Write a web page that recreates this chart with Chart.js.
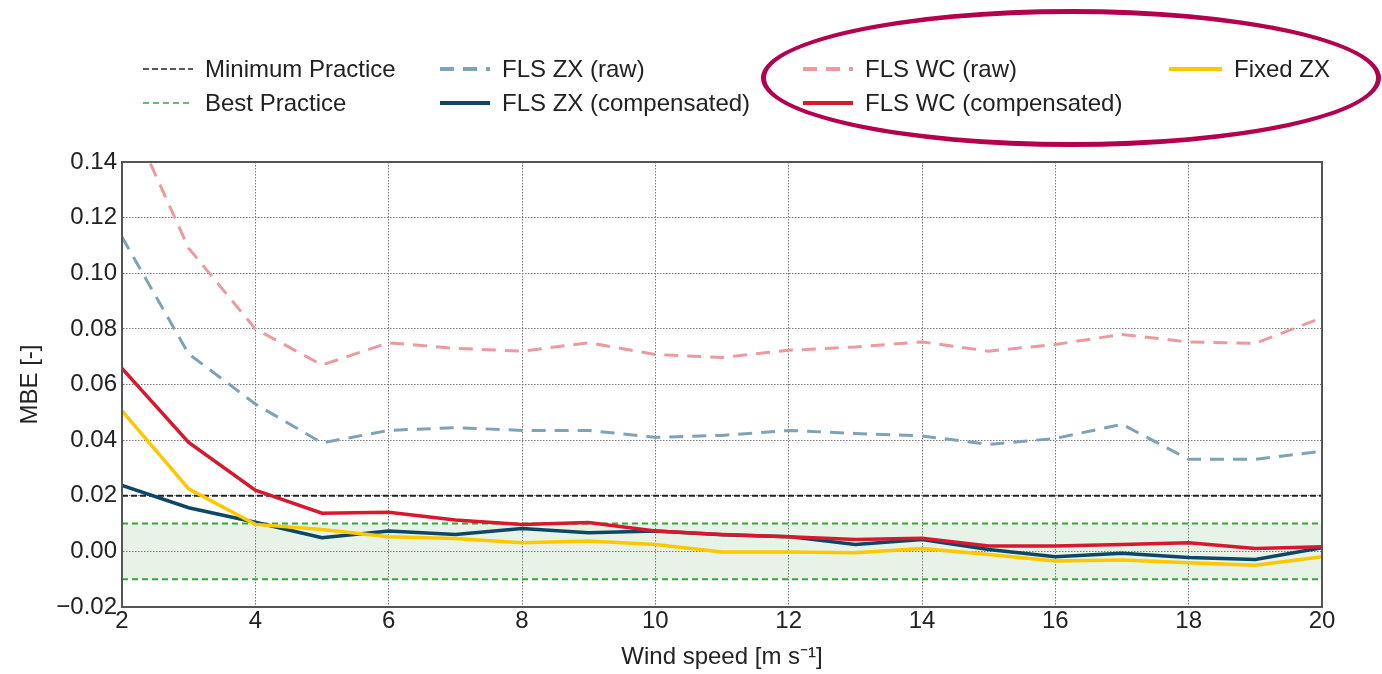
<!DOCTYPE html>
<html>
<head>
<meta charset="utf-8">
<script src="https://cdn.jsdelivr.net/npm/chart.js@4.4.1/dist/chart.umd.min.js"></script>
<style>
  html, body { margin: 0; padding: 0; background: #fff; }
  #wrap { position: relative; width: 1382px; height: 674px; }
  #chart { position: absolute; left: 0; top: 0; }
  .leg { position: absolute; font-family: "Liberation Sans", Arial, sans-serif; font-size: 24px; color: #222; line-height: 28px; white-space: nowrap; }
  .leg svg { position: absolute; left: 0; top: 0; }
  #ellipse { position: absolute; left: 761px; top: 9px; width: 610px; height: 128px; border: 5px solid #b3004f; border-radius: 50%; pointer-events: none; }
</style>
</head>
<body>
<div id="wrap">
  <canvas id="chart" width="1382" height="674"></canvas>
  <div id="legend"></div>
  <div id="ellipse"></div>
</div>
<script>
// wind speed bins [m/s]
const windSpeed = [2, 3, 4, 5, 6, 7, 8, 9, 10, 11, 12, 13, 14, 15, 16, 17, 18, 19, 20];

// MBE values
const flsZxRaw  = [0.113, 0.071, 0.053, 0.039, 0.0435, 0.0445, 0.0435, 0.0435, 0.041, 0.0417, 0.0435, 0.0424, 0.0415, 0.0385, 0.0406, 0.0457, 0.0331, 0.0331, 0.036];
const flsZxComp = [0.0237, 0.0157, 0.0105, 0.0049, 0.0073, 0.0061, 0.0082, 0.0067, 0.0073, 0.006, 0.0053, 0.0025, 0.0043, 0.0007, -0.0019, -0.0007, -0.0022, -0.0029, 0.0013];
const flsWcRaw  = [0.162, 0.109, 0.080, 0.067, 0.075, 0.073, 0.072, 0.075, 0.0708, 0.0697, 0.0723, 0.0735, 0.0753, 0.072, 0.0744, 0.078, 0.0753, 0.0748, 0.084];
const flsWcComp = [0.0658, 0.0392, 0.022, 0.0137, 0.0141, 0.0113, 0.0097, 0.0104, 0.0073, 0.0061, 0.0053, 0.0043, 0.0047, 0.0019, 0.0019, 0.0025, 0.0031, 0.001, 0.0017];
const fixedZx   = [0.0505, 0.0225, 0.0097, 0.0079, 0.0053, 0.0046, 0.0031, 0.0037, 0.0025, -0.0002, -0.0002, -0.0005, 0.001, -0.0011, -0.0035, -0.0031, -0.0041, -0.005, -0.0019];

// practice thresholds
const minimumPractice = 0.02;
const bestPractice = 0.01;

const yTicks = [-0.02, 0.00, 0.02, 0.04, 0.06, 0.08, 0.10, 0.12, 0.14];

function pts(arr) {
  return windSpeed.map((x, i) => ({ x: x, y: arr[i] }));
}
function flat(v) {
  return [{ x: windSpeed[0], y: v }, { x: windSpeed[windSpeed.length - 1], y: v }];
}

const datasets = [
  { label: 'Minimum Practice', data: flat(minimumPractice), borderColor: '#222', borderWidth: 2, borderDash: [6, 3], order: 9 },
  { label: 'Best Practice', data: flat(bestPractice), borderColor: '#36a636', borderWidth: 2, borderDash: [6, 4], fill: '+1', backgroundColor: 'rgba(60,160,60,0.13)', order: 9 },
  { label: '', data: flat(-bestPractice), borderColor: '#36a636', borderWidth: 2, borderDash: [6, 4], order: 9, hideLegend: true },
  { label: 'FLS ZX (raw)', data: pts(flsZxRaw), borderColor: '#7fa3b4', borderWidth: 3, borderDash: [14, 9], order: 5 },
  { label: 'FLS ZX (compensated)', data: pts(flsZxComp), borderColor: '#0e4766', borderWidth: 3.5, order: 3 },
  { label: 'FLS WC (raw)', data: pts(flsWcRaw), borderColor: '#ec9aa1', borderWidth: 3, borderDash: [14, 9], order: 5 },
  { label: 'FLS WC (compensated)', data: pts(flsWcComp), borderColor: '#d7182f', borderWidth: 3.5, order: 2 },
  { label: 'Fixed ZX', data: pts(fixedZx), borderColor: '#ffc700', borderWidth: 3.5, order: 1 }
];
datasets.forEach(d => { d.pointRadius = 0; d.tension = 0; if (d.fill === undefined) d.fill = false; });

// frame around plot area
const frame = {
  id: 'frame',
  afterDraw(chart) {
    const a = chart.chartArea, c = chart.ctx;
    c.save();
    c.strokeStyle = '#555';
    c.lineWidth = 2;
    c.strokeRect(a.left, a.top, a.right - a.left, a.bottom - a.top);
    c.restore();
  }
};

const font = { family: '"Liberation Sans", Arial, sans-serif', size: 24 };

const ctx = document.getElementById('chart').getContext('2d');
const chart = new Chart(ctx, {
  type: 'line',
  data: { datasets: datasets },
  options: {
    responsive: false,
    animation: false,
    layout: { padding: { top: 162, right: 60, left: 0, bottom: 0 } },
    plugins: { legend: { display: false }, tooltip: { enabled: false } },
    scales: {
      x: {
        type: 'linear', min: 2, max: 20,
        afterFit: s => { s.height = 67; },
        ticks: { stepSize: 2, color: '#222', font: font, padding: 0 },
        grid: { color: '#777', lineWidth: 1, drawTicks: false },
        border: { dash: [1.5, 1.5], color: '#555', width: 2 },
        title: { display: true, text: 'Wind speed [m s⁻¹]', color: '#222', font: font, padding: { bottom: 2 } }
      },
      y: {
        min: -0.02, max: 0.14,
        afterFit: s => { s.width = 122; },
        afterBuildTicks: s => { s.ticks = yTicks.map(v => ({ value: v })); },
        ticks: {
          color: '#222', font: font, padding: 5,
          callback: v => { const t = Math.abs(v) < 1e-9 ? '0.00' : v.toFixed(2); return t.replace('-', '\u2212'); }
        },
        grid: { color: '#777', lineWidth: 1, drawTicks: false },
        border: { dash: [1.5, 1.5], color: '#555', width: 2 },
        title: { display: true, text: 'MBE [-]', color: '#222', font: font, padding: { top: 16 } }
      }
    }
  },
  plugins: [frame]
});

// legend laid out in columns like the figure
const legendPos = [
  { x: 143, y: 55, w: 50 }, { x: 143, y: 89, w: 50 },
  { x: 440, y: 55, w: 50 }, { x: 440, y: 89, w: 50 },
  { x: 803, y: 55, w: 50 }, { x: 803, y: 89, w: 50 },
  { x: 1169, y: 55, w: 53 }
];
const legend = document.getElementById('legend');
datasets.filter(d => !d.hideLegend).forEach((d, i) => {
  const p = legendPos[i];
  const el = document.createElement('div');
  el.className = 'leg';
  el.style.left = p.x + 'px';
  el.style.top = p.y + 'px';
  el.style.paddingLeft = (p.w + 12) + 'px';
  const dash = d.borderDash ? d.borderDash.join(' ') : 'none';
  const lw = d.borderWidth <= 2 ? 1.5 : 4;
  el.innerHTML = '<svg width="' + p.w + '" height="28"><line x1="0" y1="14" x2="' + p.w + '" y2="14" stroke="' + d.borderColor +
    '" stroke-width="' + lw + '" stroke-dasharray="' + dash + '"/></svg>' + d.label;
  legend.appendChild(el);
});
</script>
</body>
</html>
